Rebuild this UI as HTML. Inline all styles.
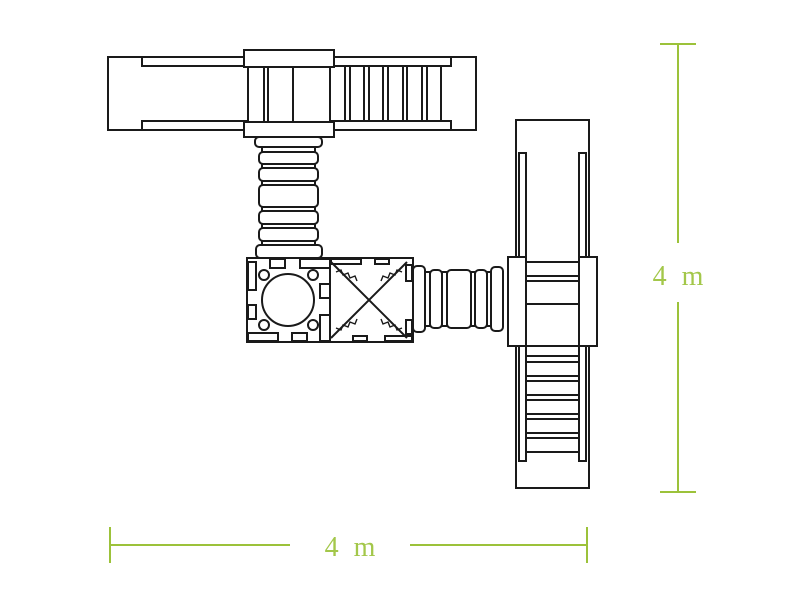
<!DOCTYPE html>
<html><head><meta charset="utf-8"><style>
html,body{margin:0;padding:0;background:#fff;width:800px;height:600px;overflow:hidden}
svg{display:block}
</style></head><body>
<svg width="800" height="600" viewBox="0 0 800 600" xmlns="http://www.w3.org/2000/svg">
<g fill="#fff" stroke="#1a1a1a" stroke-width="2">
<rect x="108" y="57" width="368" height="73"/>
<rect x="142" y="57" width="104" height="9"/>
<rect x="142" y="121" width="104" height="9"/>
<rect x="332" y="57" width="119" height="9"/>
<rect x="332" y="121" width="119" height="9"/>
<rect x="248" y="66" width="82" height="56"/>
<line x1="264" y1="66" x2="264" y2="122"/><line x1="268" y1="66" x2="268" y2="122"/>
<line x1="293" y1="66" x2="293" y2="122"/>
<g>
<line x1="345" y1="66" x2="345" y2="121"/><line x1="350" y1="66" x2="350" y2="121"/>
<line x1="364" y1="66" x2="364" y2="121"/><line x1="369" y1="66" x2="369" y2="121"/>
<line x1="383" y1="66" x2="383" y2="121"/><line x1="388" y1="66" x2="388" y2="121"/>
<line x1="403" y1="66" x2="403" y2="121"/><line x1="407" y1="66" x2="407" y2="121"/>
<line x1="422" y1="66" x2="422" y2="121"/><line x1="427" y1="66" x2="427" y2="121"/>
<line x1="441" y1="66" x2="441" y2="121"/>
</g>
<rect x="244" y="50" width="90" height="17"/>
<rect x="244" y="122" width="90" height="15"/>
<rect x="255" y="137" width="67" height="10" rx="4"/>
<rect x="262" y="147" width="53" height="5"/>
<rect x="259" y="152" width="59" height="12" rx="4"/>
<rect x="262" y="164" width="53" height="4"/>
<rect x="259" y="168" width="59" height="13" rx="4"/>
<rect x="262" y="181" width="53" height="4"/>
<rect x="259" y="185" width="59" height="22" rx="4"/>
<rect x="262" y="207" width="53" height="4"/>
<rect x="259" y="211" width="59" height="13" rx="4"/>
<rect x="262" y="224" width="53" height="4"/>
<rect x="259" y="228" width="59" height="13" rx="4"/>
<rect x="262" y="241" width="53" height="4"/>
<rect x="256" y="245" width="66" height="13" rx="4"/>
<rect x="247" y="258" width="166" height="84"/>
<line x1="330" y1="258" x2="330" y2="342"/>
<circle cx="288" cy="300" r="26"/>
<circle cx="264" cy="275" r="5"/><circle cx="313" cy="275" r="5"/>
<circle cx="264" cy="325" r="5"/><circle cx="313" cy="325" r="5"/>
<rect x="270" y="259" width="15" height="9"/><rect x="300" y="259" width="30" height="9"/>
<rect x="248" y="262" width="8" height="28"/><rect x="248" y="305" width="8" height="14"/>
<rect x="248" y="333" width="30" height="8"/><rect x="292" y="333" width="15" height="8"/>
<rect x="320" y="284" width="10" height="14"/><rect x="320" y="315" width="10" height="26"/>
<rect x="331" y="259" width="30" height="5"/><rect x="375" y="259" width="14" height="5"/>
<rect x="353" y="336" width="14" height="5"/><rect x="385" y="336" width="27" height="5"/>
<rect x="406" y="265" width="6" height="16"/><rect x="406" y="320" width="6" height="14"/>
<path d="M331 262 L407 338 M407 262 L331 338" fill="none"/>
<path d="M336 272 l5 -2 2 5 5 -2 2 5 5 -2 2 5 M402 272 l-5 -2 -2 5 -5 -2 -2 5 -5 -2 -2 5 M336 328 l5 2 2 -5 5 2 2 -5 5 2 2 -5 M402 328 l-5 2 -2 -5 -5 2 -2 -5 -5 2 -2 -5" fill="none" stroke-width="1.4"/>
<rect x="413" y="266" width="12" height="66" rx="4"/>
<rect x="425" y="272" width="5" height="54"/>
<rect x="430" y="270" width="12" height="58" rx="4"/>
<rect x="442" y="272" width="5" height="54"/>
<rect x="447" y="270" width="24" height="58" rx="4"/>
<rect x="471" y="272" width="4" height="54"/>
<rect x="475" y="270" width="12" height="58" rx="4"/>
<rect x="487" y="272" width="4" height="54"/>
<rect x="491" y="267" width="12" height="64" rx="4"/>
<rect x="516" y="120" width="73" height="368"/>
<rect x="519" y="153" width="7" height="308"/>
<rect x="579" y="153" width="7" height="308"/>
<rect x="526" y="262" width="53" height="84"/>
<line x1="526" y1="276" x2="579" y2="276"/><line x1="526" y1="281" x2="579" y2="281"/>
<line x1="526" y1="304" x2="579" y2="304"/>
<g>
<line x1="526" y1="356" x2="579" y2="356"/><line x1="526" y1="362" x2="579" y2="362"/>
<line x1="526" y1="376" x2="579" y2="376"/><line x1="526" y1="381" x2="579" y2="381"/>
<line x1="526" y1="395" x2="579" y2="395"/><line x1="526" y1="400" x2="579" y2="400"/>
<line x1="526" y1="414" x2="579" y2="414"/><line x1="526" y1="419" x2="579" y2="419"/>
<line x1="526" y1="433" x2="579" y2="433"/><line x1="526" y1="438" x2="579" y2="438"/>
<line x1="526" y1="452" x2="579" y2="452"/>
</g>
<rect x="508" y="257" width="18" height="89"/>
<rect x="579" y="257" width="18" height="89"/>
</g>
<g stroke="#9cc23a" stroke-width="2" fill="none">
<line x1="678" y1="44" x2="678" y2="243"/>
<line x1="678" y1="302" x2="678" y2="492"/>
<line x1="660" y1="44" x2="696" y2="44"/>
<line x1="660" y1="492" x2="696" y2="492"/>
<line x1="110" y1="545" x2="290" y2="545"/>
<line x1="410" y1="545" x2="587" y2="545"/>
<line x1="110" y1="527" x2="110" y2="563"/>
<line x1="587" y1="527" x2="587" y2="563"/>
</g>
<g fill="#a3c74a" font-family="'Liberation Serif', serif" font-size="28" letter-spacing="4">
<text x="680" y="285" text-anchor="middle">4 m</text>
<text x="352" y="556" text-anchor="middle">4 m</text>
</g>
</svg>
</body></html>
